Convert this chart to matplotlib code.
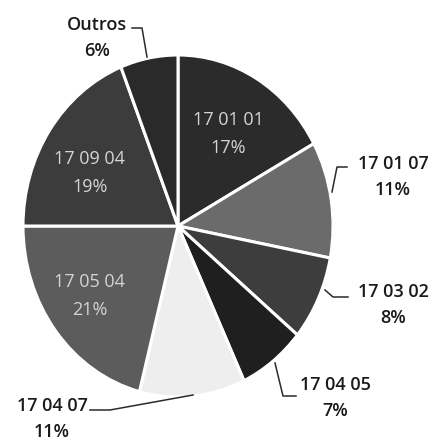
import numpy as np
import matplotlib.pyplot as plt

# composição dos resíduos por código LER
codigos = ['17 01 01', '17 01 07', '17 03 02', '17 04 05',
           '17 04 07', '17 05 04', '17 09 04', 'Outros']
percent = [17, 11, 8, 7, 11, 21, 19, 6]
cores = ['#2b2b2b', '#6b6b6b', '#3d3d3d', '#1f1f1f',
         '#eeeeee', '#5c5c5c', '#3c3c3c', '#2a2a2a']

plt.rcParams['font.family'] = ['Open Sans', 'DejaVu Sans']

W, H = 434, 445
fig = plt.figure(figsize=(W / 100, H / 100), dpi=100)
# centro do gráfico em (178, 226) px, raios 155 x 171 px
cx, cy, rx, ry = 178, 226, 155, 171
ax = fig.add_axes([(cx - rx) / W, (H - cy - ry) / H, 2 * rx / W, 2 * ry / H])

wedges, _ = ax.pie(percent, colors=cores, startangle=90, counterclock=False,
                   wedgeprops=dict(edgecolor='white', linewidth=2.2))
ax.set_aspect('auto')
ax.set_xlim(-1, 1)
ax.set_ylim(-1, 1)
ax.axis('off')


def px(x, y):
    # pixel -> coordenadas dos dados
    return (x - cx) / rx, (cy - y) / ry


# rótulos internos (texto claro)
internos = {0: (228, 134), 6: (90, 173), 5: (90, 296)}
for i, pos in internos.items():
    x, y = px(*pos)
    ax.text(x, y, '%s\n%d%%' % (codigos[i], percent[i]),
            ha='center', va='center', color='#d4d4d4', fontsize=13,
            linespacing=1.75)

# rótulos externos com linhas de chamada
externos = {
    7: ((97, 38), [(132, 28), (142, 28), (147, 57)]),
    1: ((393, 177), [(347, 167), (337, 167), (332, 192)]),
    2: ((393, 305), [(348, 297), (333, 297), (325, 290)]),
    3: ((335, 398), [(296, 396), (283, 396), (275, 363)]),
    4: ((52, 419), [(90, 410), (110, 410), (193, 395)]),
}
for i, (pos, linha) in externos.items():
    x, y = px(*pos)
    ax.text(x, y, '%s\n%d%%' % (codigos[i], percent[i]), ha='center',
            va='center', color='#1a1a1a', fontsize=13, linespacing=1.6,
            fontweight='semibold', clip_on=False)
    xs, ys = zip(*[px(*p) for p in linha])
    ax.plot(xs, ys, color='#2a2a2a', lw=1.1, clip_on=False)

plt.savefig('out.png', dpi=100)
